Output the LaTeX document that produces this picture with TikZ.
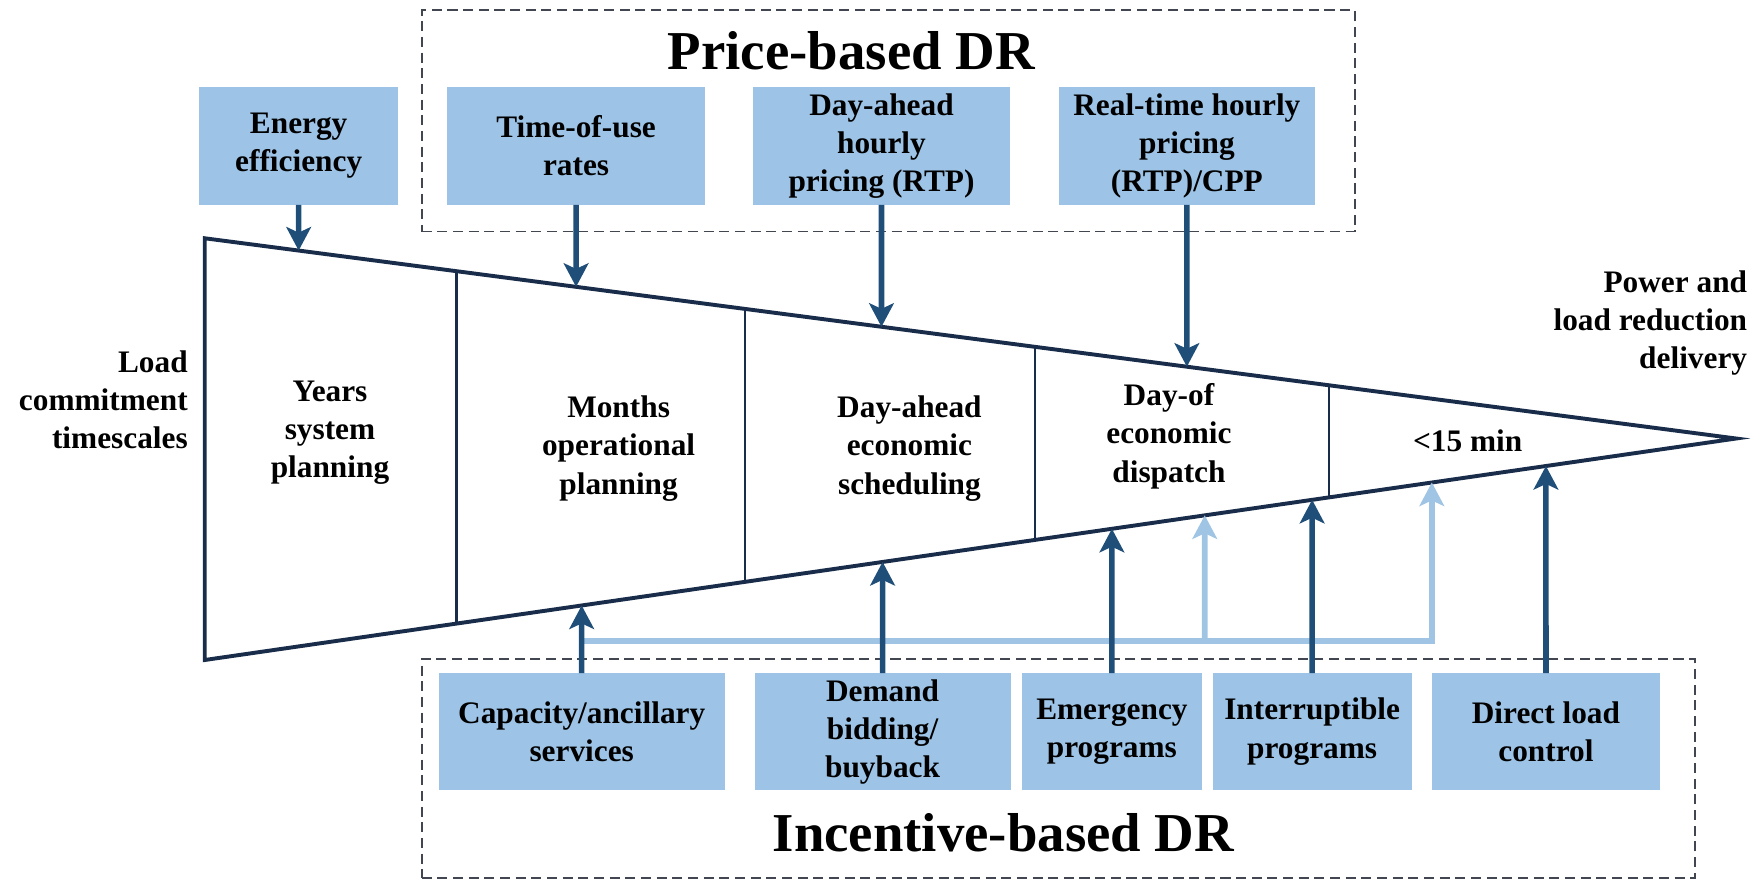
\documentclass[tikz,border=0pt]{standalone}
\usepackage{fontspec}
\setmainfont{Liberation Serif}
\usetikzlibrary{arrows.meta,calc}
\definecolor{boxblue}{RGB}{157,195,230}
\definecolor{arrowblue}{RGB}{31,78,121}
\definecolor{lineblue}{RGB}{25,45,75}
\definecolor{lightarrow}{RGB}{160,196,228}
\definecolor{dashgray}{RGB}{65,70,80}
\begin{document}
\begin{tikzpicture}[x=1pt,y=-1pt,
  drbox/.style={fill=boxblue, draw=none, inner sep=0pt, align=center,
    font=\fontsize{28}{34}\selectfont\bfseries, execute at begin node={\rule{0pt}{25pt}}},
  lbl/.style={inner sep=0pt, align=center, font=\fontsize{28}{34}\selectfont\bfseries,
    execute at begin node={\rule{0pt}{25pt}}},
  ttl/.style={inner sep=0pt, font=\fontsize{49}{58}\selectfont\bfseries},
  grp/.style={draw=dashgray, line width=1.6pt, dash pattern=on 9pt off 5pt, inner sep=0pt},
  darr/.style={draw=arrowblue, line width=5pt, -{Stealth[length=21pt,width=22pt,inset=5pt]}},
  larr/.style={draw=lightarrow, line width=5pt, line join=miter, -{Stealth[length=21pt,width=22pt,inset=5pt]}},
  outline/.style={draw=lineblue, line width=3.5pt, line join=miter},
  divider/.style={draw=lineblue, line width=2pt}
]
\useasboundingbox (0,0) rectangle (1568,788);

% group frames
\node[grp, minimum width=834pt, minimum height=198pt] (pricegrp) at (794,108) {};
\node[grp, minimum width=1138pt, minimum height=196pt] (incgrp) at (946,687) {};
\node[ttl, anchor=base] (pricettl) at (761,62.5) {Price-based DR};
\node[ttl, anchor=base] (incttl) at (897,761) {Incentive-based DR};

% top boxes
\node[drbox, minimum width=178pt, minimum height=105pt] (ee) at (267,130.5) {Energy\\efficiency};
\node[drbox, minimum width=230pt, minimum height=105pt] (tou) at (515,130.5) {Time-of-use\\rates};
\node[drbox, minimum width=230pt, minimum height=105pt] (dah) at (788,130.5) {Day-ahead\\hourly\\pricing (RTP)};
\node[drbox, minimum width=229pt, minimum height=105pt] (rtp) at (1061,130.5) {Real-time hourly\\pricing\\(RTP)/CPP};

% bottom boxes
\node[drbox, minimum width=256pt, minimum height=104pt] (cap) at (520,654) {Capacity/ancillary\\services};
\node[drbox, minimum width=229pt, minimum height=104pt] (dem) at (789,654) {Demand\\bidding/\\buyback};
\node[drbox, minimum width=161pt, minimum height=104pt] (emg) at (994,654) {Emergency\\programs};
\node[drbox, minimum width=178pt, minimum height=104pt] (int) at (1173,654) {Interruptible\\programs};
\node[drbox, minimum width=204pt, minimum height=104pt] (dlc) at (1382,654) {Direct load\\control};

% funnel
\coordinate (TL) at (183,213);
\coordinate (BL) at (183,590);
\coordinate (AP) at (1552,392);
\draw[outline] (AP) -- (TL) -- (BL) -- cycle;

% dividers
\foreach \xx [count=\i] in {408,666,925,1188}{
  \coordinate (d\i t) at ($(TL)!{(\xx-183)/1369}!(AP)$);
  \coordinate (d\i b) at ($(BL)!{(\xx-183)/1369}!(AP)$);
  \draw[divider] (d\i t) -- (d\i b);
}

% stage labels
\node[lbl] (years) at (295,387) {Years\\system\\planning};
\node[lbl] (months) at (553,401) {Months\\operational\\planning};
\node[lbl] (dasched) at (813,401) {Day-ahead\\economic\\scheduling};
\node[lbl] (dayof) at (1045,390) {Day-of\\economic\\dispatch};
\node[lbl] (rt) at (1312,391) {<15 min};

\node[lbl, align=right, anchor=east] (lct) at (168,357) {Load\\commitment\\timescales};
\node[lbl, align=right, anchor=east] (plr) at (1562,289) {Power and\\load reduction\\delivery};

% arrow targets on the funnel edges
\coordinate (t1) at ($(TL)!{(267-183)/1369}!(AP)$);
\coordinate (t2) at ($(TL)!{(515-183)/1369}!(AP)$);
\coordinate (t3) at ($(TL)!{(788-183)/1369}!(AP)$);
\coordinate (t4) at ($(TL)!{(1061-183)/1369}!(AP)$);
\coordinate (b1) at ($(BL)!{(520-183)/1369}!(AP)$);
\coordinate (b2) at ($(BL)!{(789-183)/1369}!(AP)$);
\coordinate (b3) at ($(BL)!{(994-183)/1369}!(AP)$);
\coordinate (b4) at ($(BL)!{(1077-183)/1369}!(AP)$);
\coordinate (b5) at ($(BL)!{(1173-183)/1369}!(AP)$);
\coordinate (b6) at ($(BL)!{(1280-183)/1369}!(AP)$);
\coordinate (b7) at ($(BL)!{(1382-183)/1369}!(AP)$);
\coordinate (lj) at (520,573);
\coordinate (lk) at (1077,573);

% light branch arrows
\draw[larr] (lj) -| (b6);
\draw[larr] (lk) -- (b4);

% dark arrows
\draw[darr] (ee.south) -- (t1);
\draw[darr] (tou.south) -- (t2);
\draw[darr] (dah.south) -- (t3);
\draw[darr] (rtp.south) -- (t4);
\draw[darr] (cap.north) -- (b1);
\draw[darr] (dem.north) -- (b2);
\draw[darr] (emg.north) -- (b3);
\draw[darr] (int.north) -- (b5);
\draw[darr] (dlc.north) -- (b7);
\end{tikzpicture}
\end{document}
